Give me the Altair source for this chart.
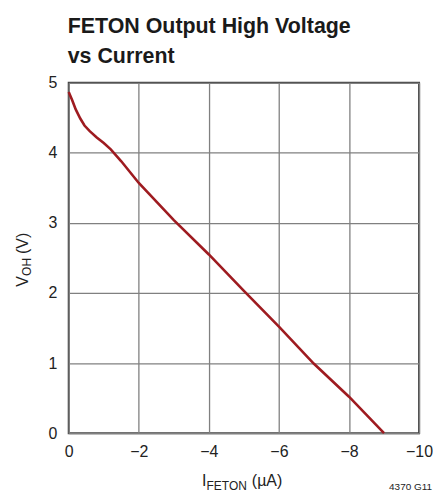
import altair as alt
import pandas as pd

# ---- data ----
current_uA = [0, -0.1, -0.2, -0.33, -0.45, -0.6, -0.8, -1.0, -1.2, -1.5, -2, -3, -4, -5, -6, -7, -8, -8.5, -9.0]
voh_V = [4.87, 4.75, 4.62, 4.49, 4.39, 4.31, 4.22, 4.14, 4.05, 3.88, 3.57, 3.04, 2.55, 2.03, 1.52, 0.99, 0.52, 0.26, 0.0]

x_ticks = [0, -2, -4, -6, -8, -10]
y_ticks = [0, 1, 2, 3, 4, 5]
title_lines = ["FETON Output High Voltage", "vs Current"]
x_title_parts = ["I", "FETON", "(µA)"]
y_title_parts = ["V", "OH", "(V)"]
figure_id = "4370 G11"

FONT = "Liberation Sans, Arial, Helvetica, sans-serif"

df = pd.DataFrame({"I": current_uA, "V": voh_V})

line = alt.Chart(df).mark_line(color="#9e1b20", strokeWidth=2.6).encode(
    x=alt.X(
        "I:Q",
        scale=alt.Scale(domain=[0, -10], nice=False),
        axis=alt.Axis(values=x_ticks, title=None, labelPadding=10, labelFlush=False),
    ),
    y=alt.Y(
        "V:Q",
        scale=alt.Scale(domain=[0, 5], nice=False),
        axis=alt.Axis(values=y_ticks, title=None, labelPadding=12, labelFlush=False),
    ),
)


def label(text, x, y, size, bold=False, angle=0, align="left", color="#222"):
    return alt.Chart(pd.DataFrame({"t": [text]})).mark_text(
        font=FONT,
        fontSize=size,
        fontWeight="bold" if bold else "normal",
        angle=angle,
        align=align,
        baseline="alphabetic",
        color=color,
    ).encode(text="t:N", x=alt.value(x), y=alt.value(y))


layers = [
    line,
    label(title_lines[0], -1, -50.5, 21.5, bold=True, color="#1a1a1a"),
    label(title_lines[1], -1, -20, 21.5, bold=True, color="#1a1a1a"),
    label(x_title_parts[0], 134, 405, 16),
    label(x_title_parts[1], 138.5, 409, 12),
    label(x_title_parts[2], 184, 405, 16),
    label(y_title_parts[0], -41, 205, 16, angle=270),
    label(y_title_parts[1], -38, 194, 12, angle=270),
    label(y_title_parts[2], -41, 172, 16, angle=270),
    label(figure_id, 365, 409, 10, align="right"),
]

chart = alt.layer(*layers).properties(
    width=352,
    height=352,
    autosize=alt.AutoSizeParams(type="none"),
    padding={"left": 61, "top": 74, "right": 14, "bottom": 61},
).configure_view(
    stroke="#444", strokeWidth=2
).configure_axis(
    domain=False,
    ticks=False,
    tickSize=0,
    grid=True,
    gridColor="#808080",
    gridWidth=1.3,
    labelFont=FONT,
    labelFontSize=16,
    labelColor="#222",
)

chart.save("out.html", embed_options={"renderer": "svg", "actions": False})
